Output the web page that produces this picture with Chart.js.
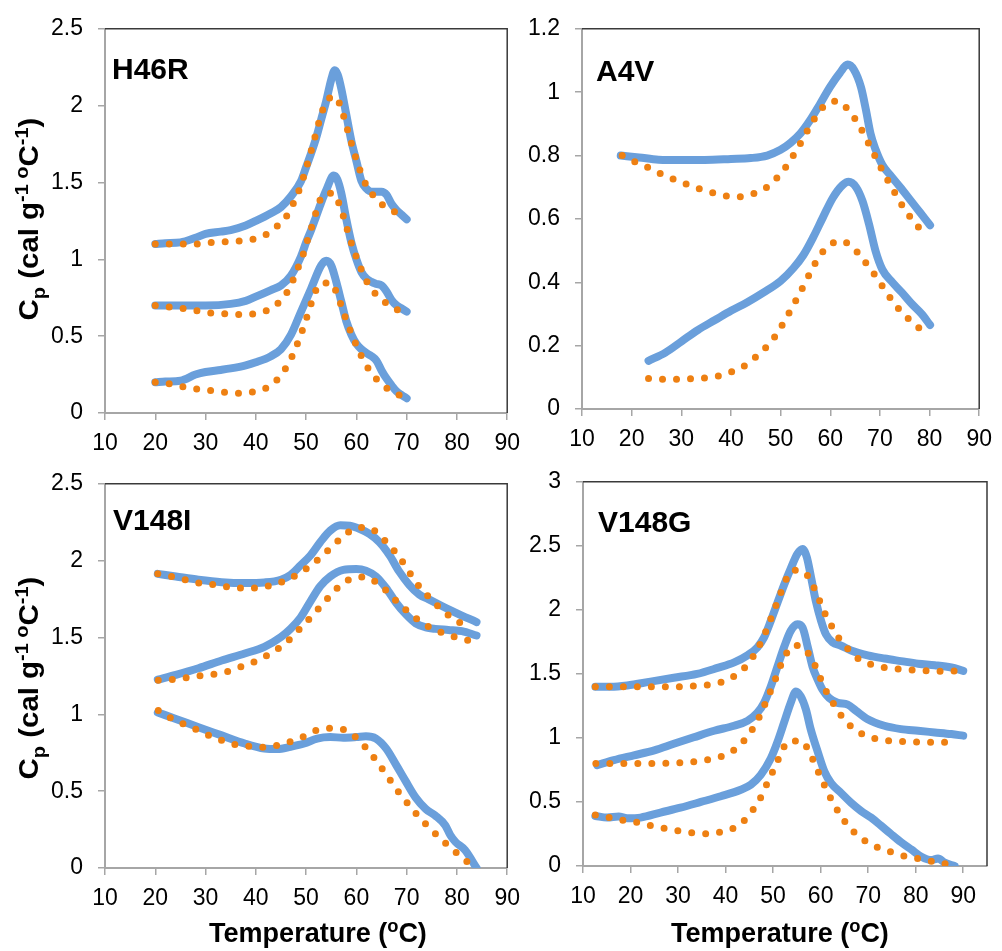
<!DOCTYPE html>
<html>
<head>
<meta charset="utf-8">
<script src="https://cdn.jsdelivr.net/npm/chart.js@4.4.1/dist/chart.umd.min.js"></script>
<style>
  body { margin: 0; background: #fff; }
  #wrap { position: relative; width: 1002px; height: 951px; overflow: hidden; font-family: 'Liberation Sans', Arial, sans-serif; }
  .pane { position: absolute; }
  .ytitle { position: absolute; width: 320px; height: 36px; line-height: 36px; text-align: center;
            font-weight: bold; font-size: 28px; white-space: nowrap; transform: rotate(-90deg) scaleX(1.05); }
  .xtitle { position: absolute; width: 320px; height: 34px; line-height: 34px; text-align: center;
            font-weight: bold; font-size: 27px; white-space: nowrap; }
  sup, sub { font-size: 0.68em; line-height: 0; }
</style>
</head>
<body>
<div id="wrap">
  <div class="pane" style="left:0px;top:0px;width:530px;height:470px"><canvas id="c1"></canvas></div>
  <div class="pane" style="left:477px;top:0px;width:525px;height:466px"><canvas id="c2"></canvas></div>
  <div class="pane" style="left:0px;top:455px;width:530px;height:470px"><canvas id="c3"></canvas></div>
  <div class="pane" style="left:478px;top:453px;width:525px;height:470px"><canvas id="c4"></canvas></div>
  <div class="ytitle" style="left:-131px;top:201px">C<sub>p</sub> (cal g<sup>-1 o</sup>C<sup>-1</sup>)</div>
  <div class="ytitle" style="left:-131px;top:660px">C<sub>p</sub> (cal g<sup>-1 o</sup>C<sup>-1</sup>)</div>
  <div class="xtitle" style="left:158px;top:916px">Temperature (<sup>o</sup>C)</div>
  <div class="xtitle" style="left:620px;top:916px">Temperature (<sup>o</sup>C)</div>
</div>
<script>
// panel names
var panelNames = ['H46R', 'A4V', 'V148I', 'V148G'];

// axis ranges [xMax, yMax, yStep]
var xMax = [90, 90, 90, 95];
var yMax = [2.5, 1.2, 2.5, 3];
var yStep = [0.5, 0.2, 0.5, 0.5];

// H46R  ([temperature, Cp])
var h46rBlueA = [[20,1.10],[22,1.105],[25,1.11],[28,1.14],[30,1.165],[33,1.18],[35,1.19],[38,1.22],[40,1.25],[43,1.30],[45,1.34],[47,1.41],[49,1.51],[50,1.60],[51,1.69],[52,1.79],[53,1.91],[54,2.03],[55,2.17],[55.7,2.23],[56.3,2.2],[57,2.11],[58,1.94],[59,1.77],[60,1.64],[61,1.51],[62,1.46],[63,1.44],[64,1.44],[65,1.44],[66,1.42],[67,1.36],[68,1.32],[69,1.29],[70,1.26]];
var h46rOrangeA = [[20,1.10],[22.8,1.10],[25.8,1.10],[28.6,1.10],[31.5,1.11],[34.4,1.115],[37.2,1.12],[39.9,1.135],[42.5,1.17],[44.7,1.23],[46.5,1.30],[47.8,1.39],[48.9,1.475],[49.8,1.57],[50.6,1.66],[51.4,1.75],[52.1,1.84],[52.9,1.93],[53.9,2.02],[55.8,2.06],[57.1,1.97],[57.9,1.88],[58.7,1.79],[59.5,1.70],[60.4,1.61],[61.4,1.52],[62.9,1.435],[64.8,1.365],[67.1,1.315],[69.7,1.30]];
var h46rBlueB = [[20,0.70],[25,0.70],[30,0.70],[35,0.71],[38,0.73],[40,0.757],[43,0.80],[45,0.83],[47,0.895],[49,1.02],[50,1.11],[51,1.19],[52,1.28],[53,1.37],[54,1.45],[55.5,1.545],[56.2,1.52],[57,1.43],[58,1.26],[59,1.11],[60,1.00],[61,0.917],[62,0.874],[63,0.853],[64,0.84],[65,0.83],[66,0.79],[67,0.735],[68,0.70],[69,0.68],[70,0.66]];
var h46rOrangeB = [[20,0.70],[22.7,0.69],[25.5,0.68],[28.4,0.665],[31.2,0.65],[34.1,0.646],[36.9,0.64],[39.7,0.646],[42.4,0.67],[44.6,0.72],[46.3,0.79],[47.6,0.88],[48.7,0.97],[49.7,1.06],[50.5,1.15],[51.4,1.24],[52.2,1.33],[53.4,1.42],[55.4,1.43],[56.7,1.35],[57.6,1.26],[58.4,1.17],[59.3,1.075],[60.3,0.99],[61.4,0.90],[62.9,0.81],[64.7,0.75],[67,0.69],[69.6,0.655]];
var h46rBlueC = [[20,0.20],[22,0.205],[25,0.21],[28,0.25],[30,0.267],[33,0.28],[35,0.29],[38,0.31],[40,0.33],[43,0.37],[45,0.415],[47,0.51],[49,0.66],[51,0.81],[53,0.96],[54,0.99],[55,0.96],[56,0.853],[57,0.725],[58,0.597],[59,0.51],[60,0.45],[61,0.415],[62,0.39],[63,0.37],[64,0.34],[65,0.277],[66,0.224],[67,0.18],[68,0.14],[69,0.117],[70,0.096]];
var h46rOrangeC = [[20,0.20],[22.8,0.19],[25.7,0.17],[28.4,0.155],[31.3,0.145],[34.1,0.134],[36.9,0.128],[39.7,0.139],[42.5,0.17],[44.6,0.23],[46.2,0.305],[47.5,0.39],[48.6,0.48],[49.6,0.57],[50.5,0.66],[51.4,0.75],[52.6,0.836],[55,0.846],[56.3,0.76],[57.3,0.67],[58.2,0.584],[59.3,0.495],[60.5,0.405],[61.8,0.32],[63.5,0.24],[65.4,0.177],[67.9,0.128],[69.8,0.096]];

// A4V
var a4vBlueA = [[17.8,0.80],[21.5,0.794],[25.4,0.787],[30.1,0.786],[34.7,0.786],[40,0.789],[44,0.792],[47.3,0.80],[50,0.818],[52,0.84],[54,0.87],[56,0.913],[58,0.964],[59.9,1.015],[61.9,1.06],[63.5,1.087],[64.8,1.07],[66.2,1.015],[67.2,0.943],[68.1,0.87],[69.1,0.82],[70.5,0.77],[72.1,0.738],[74.1,0.70],[76.1,0.66],[78.1,0.62],[80.1,0.58]];
var a4vOrangeA = [[18.1,0.80],[20.7,0.78],[23.2,0.763],[25.8,0.743],[28.2,0.727],[30.8,0.711],[33.4,0.696],[36.2,0.683],[38.9,0.673],[41.8,0.67],[44.6,0.68],[47.2,0.70],[49.3,0.73],[51.1,0.765],[52.7,0.804],[54.2,0.844],[55.6,0.884],[57.1,0.923],[58.9,0.958],[61.5,0.972],[63.7,0.943],[65.4,0.906],[66.8,0.867],[68.1,0.826],[69.5,0.784],[70.8,0.743],[72.3,0.703],[73.7,0.663],[75.3,0.623],[77.1,0.587],[78.9,0.553]];
var a4vBlueB = [[23.4,0.152],[26.8,0.178],[30.1,0.214],[33.4,0.25],[36.7,0.28],[40,0.31],[43.3,0.337],[46.6,0.368],[50,0.404],[52.6,0.445],[54.6,0.486],[56.6,0.543],[58.5,0.604],[60.5,0.666],[62.5,0.707],[63.7,0.717],[65.2,0.70],[66.5,0.656],[67.8,0.584],[69.1,0.50],[70.5,0.44],[72.5,0.40],[74.4,0.368],[76.4,0.332],[78.4,0.30],[80.1,0.265]];
var a4vOrangeB = [[23.4,0.096],[26.4,0.094],[29.4,0.094],[32.3,0.096],[35.2,0.099],[38,0.106],[40.7,0.121],[43.2,0.141],[45.4,0.17],[47.4,0.20],[49.2,0.236],[50.7,0.275],[52.2,0.317],[53.6,0.358],[54.9,0.397],[56.2,0.438],[57.7,0.479],[59.5,0.513],[62,0.531],[64.5,0.511],[66.4,0.476],[68.2,0.44],[69.9,0.402],[71.5,0.364],[73.2,0.327],[75.2,0.293],[77.3,0.263],[79.7,0.236]];

// V148I
var v148iBlueA = [[20.5,1.914],[24.1,1.897],[28.6,1.876],[33.2,1.86],[37.8,1.854],[41.7,1.858],[45,1.876],[46.9,1.907],[48.9,1.97],[50.9,2.035],[52.8,2.12],[54.8,2.195],[56.8,2.23],[58.7,2.227],[60.7,2.206],[62.6,2.174],[64.6,2.12],[66.6,2.035],[68.5,1.93],[70.5,1.843],[72.5,1.78],[74.4,1.748],[77,1.705],[79.7,1.662],[83.9,1.60]];
var v148iOrangeA = [[20.5,1.914],[23.2,1.897],[26,1.876],[28.7,1.854],[31.5,1.844],[34.3,1.829],[37.1,1.822],[40,1.822],[42.8,1.837],[45.5,1.865],[48.1,1.907],[50.4,1.956],[52.6,2.014],[54.7,2.078],[56.8,2.142],[59.1,2.20],[61.7,2.217],[64.3,2.18],[66.2,2.11],[68,2.046],[69.7,1.967],[71.3,1.886],[73,1.812],[74.9,1.748],[76.9,1.684],[79.1,1.626],[81.6,1.577]];
var v148iBlueB = [[20.5,1.226],[24.1,1.257],[28.6,1.30],[33.2,1.35],[37.8,1.396],[41.7,1.439],[45,1.503],[46.9,1.556],[48.9,1.63],[50.9,1.737],[52.8,1.833],[54.8,1.897],[57.4,1.94],[60,1.946],[61.9,1.935],[63.9,1.897],[65.9,1.822],[67.9,1.726],[69.8,1.652],[71.8,1.592],[73.8,1.566],[75.7,1.556],[78.3,1.549],[81,1.541],[83.9,1.513]];
var v148iOrangeB = [[20.6,1.221],[23.4,1.226],[26.2,1.238],[29,1.251],[31.8,1.262],[34.5,1.279],[37.2,1.311],[39.8,1.343],[42.3,1.385],[44.7,1.434],[47,1.496],[48.9,1.562],[50.9,1.63],[52.8,1.699],[54.7,1.769],[56.6,1.833],[58.9,1.882],[61.7,1.893],[64.3,1.85],[66.4,1.79],[68.3,1.726],[70.4,1.665],[72.7,1.605],[75.1,1.558],[77.7,1.524],[80.3,1.496],[83,1.475]];
var v148iBlueC = [[20.5,1.012],[24.1,0.97],[28.6,0.916],[33.2,0.863],[37.8,0.81],[41.7,0.778],[44.3,0.774],[46.9,0.789],[49.6,0.81],[52.2,0.842],[54.8,0.852],[57.4,0.848],[60,0.852],[61.9,0.857],[63.9,0.842],[65.9,0.778],[67.9,0.671],[69.8,0.565],[71.8,0.458],[73.8,0.384],[75.7,0.341],[77.7,0.277],[78.7,0.213],[79.7,0.17],[81.6,0.117],[83.9,0]];
var v148iOrangeC = [[20.6,1.025],[23.1,0.976],[25.6,0.938],[28.1,0.902],[30.7,0.863],[33.2,0.831],[35.8,0.804],[38.6,0.793],[41.5,0.786],[44.3,0.799],[47.1,0.825],[49.6,0.857],[52,0.895],[54.8,0.91],[57.6,0.90],[60,0.848],[61.9,0.782],[63.7,0.71],[65.4,0.633],[67.1,0.554],[68.7,0.48],[70.6,0.405],[72.5,0.33],[74.4,0.266],[76.4,0.202],[78.5,0.139],[80.8,0.075],[82.9,0.017]];

// V148G
var v148gBlueA = [[12.6,1.40],[15.8,1.40],[19.3,1.41],[24.2,1.44],[29.1,1.47],[34,1.50],[38.3,1.547],[41.8,1.59],[44.6,1.645],[46.7,1.708],[48.1,1.785],[49.5,1.913],[50.9,2.054],[52.3,2.194],[53.7,2.322],[55.1,2.437],[56.2,2.476],[57.1,2.41],[57.9,2.27],[59,2.066],[60.1,1.913],[61.1,1.81],[62.5,1.747],[64.3,1.72],[66.4,1.683],[69.9,1.645],[73.4,1.62],[76.9,1.60],[80.5,1.58],[84,1.568],[87.5,1.55],[90,1.524]];
var v148gOrangeA = [[12.6,1.40],[15.7,1.40],[18.8,1.40],[22,1.40],[25,1.40],[28.1,1.40],[31.2,1.40],[34.4,1.41],[37.4,1.42],[40.2,1.45],[42.8,1.51],[45,1.59],[46.6,1.688],[48,1.79],[49.2,1.90],[50.3,2.005],[51.4,2.11],[52.5,2.22],[54.3,2.31],[56.7,2.29],[58.3,2.195],[59.6,2.087],[60.8,1.98],[62.2,1.88],[63.8,1.78],[65.7,1.696],[67.9,1.62],[70.5,1.575],[73.4,1.55],[76.4,1.537],[79.5,1.53],[82.7,1.524],[85.8,1.52],[88.9,1.524]];
var v148gBlueB = [[13,0.788],[16.5,0.826],[20.7,0.864],[25,0.903],[29.1,0.954],[33.3,1.005],[37.6,1.056],[41.8,1.095],[44.6,1.133],[46.7,1.197],[48.1,1.274],[49.5,1.40],[50.9,1.555],[52.3,1.708],[53.7,1.836],[55.1,1.887],[56.2,1.862],[57.3,1.708],[58.3,1.555],[59.4,1.453],[60.4,1.376],[61.8,1.312],[63.6,1.274],[65.7,1.26],[67.5,1.21],[69.9,1.146],[73.4,1.095],[76.9,1.069],[80.5,1.056],[84,1.043],[87.5,1.03],[90,1.018]];
var v148gOrangeB = [[12.7,0.80],[15.8,0.80],[19,0.80],[22.1,0.80],[25.3,0.80],[28.4,0.803],[31.4,0.808],[34.5,0.82],[37.6,0.839],[40.4,0.875],[42.8,0.936],[44.8,1.023],[46.5,1.12],[47.8,1.222],[49,1.327],[50.2,1.432],[51.3,1.54],[52.5,1.642],[54.6,1.724],[57.1,1.675],[58.7,1.575],[59.9,1.47],[61.1,1.37],[62.6,1.274],[64.4,1.171],[66.4,1.09],[69,1.026],[71.9,0.992],[74.8,0.977],[77.9,0.972],[81,0.967],[84,0.967],[87.1,0.967]];
var v148gBlueC = [[12.6,0.391],[15.1,0.378],[17.5,0.386],[19.3,0.373],[22.1,0.378],[26.3,0.417],[30.5,0.455],[34.8,0.50],[39,0.545],[43.2,0.596],[45.3,0.634],[47.4,0.711],[49.5,0.839],[50.9,0.967],[52.3,1.12],[53.7,1.274],[54.8,1.363],[55.8,1.325],[56.9,1.222],[57.9,1.069],[59.4,0.89],[60.8,0.737],[62.2,0.647],[64.3,0.57],[66.4,0.494],[68.5,0.43],[70.6,0.378],[72.7,0.315],[74.8,0.25],[76.9,0.187],[79.1,0.128],[81.2,0.072],[83.3,0.046],[84.7,0.059],[86.1,0.026],[88.2,0]];
var v148gOrangeC = [[12.6,0.399],[15.6,0.378],[18.4,0.358],[21.4,0.34],[24.3,0.315],[27.3,0.294],[30.3,0.274],[33.3,0.258],[36.3,0.251],[39.3,0.269],[42,0.302],[44.4,0.373],[46.2,0.463],[47.8,0.563],[49,0.668],[50.4,0.772],[51.6,0.877],[53.2,0.972],[55.9,0.977],[57.7,0.885],[58.9,0.783],[60.2,0.68],[61.5,0.575],[62.9,0.476],[64.6,0.373],[66.5,0.284],[68.8,0.21],[71.3,0.156],[74.1,0.118],[76.9,0.084],[79.8,0.064],[82.7,0.041],[85.7,0.02],[88.6,0]];

var FONT = "'Liberation Sans', Arial, sans-serif";
var BLUE = '#6a9fdb';
var ORANGE = '#ee8012';
var AXIS = '#a6a6a6';

function toXY(arr) {
	return arr.map(function(p) { return {x: p[0], y: p[1]}; });
}

function blue(arr) {
	return {
		data: toXY(arr), borderColor: BLUE, borderWidth: 8, pointRadius: 0,
		cubicInterpolationMode: 'monotone', borderCapStyle: 'round', borderJoinStyle: 'round', order: 1
	};
}

function orange(arr) {
	return {
		data: toXY(arr), borderColor: ORANGE, borderWidth: 7, pointRadius: 0,
		cubicInterpolationMode: 'monotone', borderCapStyle: 'round', borderDash: [0, 14], order: 0
	};
}

// plain tick text: 1 not 1.0
function tickText(v) {
	return String(Number(v.toFixed(2)));
}

// top + right frame lines and the panel name
var framePlugin = {
	id: 'frame',
	beforeDatasetsDraw: function(chart) {
		var a = chart.chartArea, ctx = chart.ctx;
		ctx.save();
		ctx.strokeStyle = '#3a3a3a';
		ctx.lineWidth = 1.5;
		ctx.beginPath();
		ctx.moveTo(a.left, a.top);
		ctx.lineTo(a.right, a.top);
		ctx.lineTo(a.right, a.bottom);
		ctx.stroke();
		ctx.restore();
	},
	afterDraw: function(chart, args, opts) {
		var a = chart.chartArea, ctx = chart.ctx;
		ctx.save();
		ctx.fillStyle = '#000';
		ctx.font = 'bold 30px ' + FONT;
		ctx.textBaseline = 'alphabetic';
		ctx.fillText(opts.text, a.left + opts.dx, a.top + opts.dy);
		ctx.restore();
	}
};

function makePanel(id, i, sets, pad, dx, dy) {
	new Chart(document.getElementById(id), {
		type: 'line',
		data: { datasets: sets },
		options: {
			responsive: true,
			maintainAspectRatio: false,
			animation: false,
			events: [],
			layout: { padding: { top: pad, right: 16, left: 0, bottom: 0 } },
			plugins: {
				legend: { display: false },
				tooltip: { enabled: false },
				frame: { text: panelNames[i], dx: dx, dy: dy }
			},
			scales: {
				x: {
					type: 'linear', min: 10, max: xMax[i],
					ticks: { stepSize: 10, includeBounds: false, color: '#000', padding: 10, maxRotation: 0, autoSkip: false,
						font: { family: FONT, size: 23 }, callback: tickText },
					grid: { drawOnChartArea: false, tickLength: 7, color: AXIS, lineWidth: 1.5 },
					border: { color: AXIS, width: 2 },
					afterFit: function(s) { s.height = 57; }
				},
				y: {
					type: 'linear', min: 0, max: yMax[i],
					ticks: { stepSize: yStep[i], color: '#000', padding: 15,
						font: { family: FONT, size: 23 }, callback: tickText },
					grid: { drawOnChartArea: false, tickLength: 7, color: AXIS, lineWidth: 1.5 },
					border: { color: AXIS, width: 2 },
					afterFit: function(s) { s.width = 105; }
				}
			}
		},
		plugins: [framePlugin]
	});
}

makePanel('c1', 0, [orange(h46rOrangeA), orange(h46rOrangeB), orange(h46rOrangeC),
	blue(h46rBlueA), blue(h46rBlueB), blue(h46rBlueC)], 22, 7, 50);
makePanel('c2', 1, [orange(a4vOrangeA), orange(a4vOrangeB),
	blue(a4vBlueA), blue(a4vBlueB)], 20, 14, 52);
makePanel('c3', 2, [orange(v148iOrangeA), orange(v148iOrangeB), orange(v148iOrangeC),
	blue(v148iBlueA), blue(v148iBlueB), blue(v148iBlueC)], 22, 8, 46);
makePanel('c4', 3, [orange(v148gOrangeA), orange(v148gOrangeB), orange(v148gOrangeC),
	blue(v148gBlueA), blue(v148gBlueB), blue(v148gBlueC)], 22, 15, 50);
</script>
</body>
</html>
